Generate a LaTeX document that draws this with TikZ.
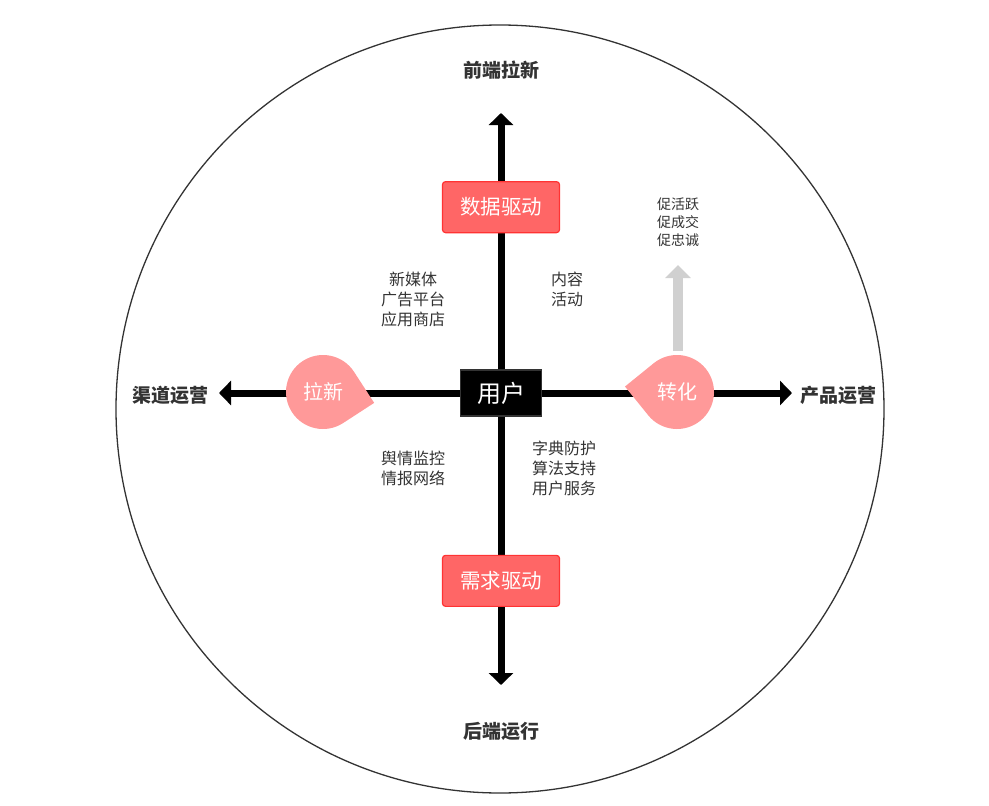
\documentclass[tikz,border=0pt]{standalone}
\usepackage{fontspec}
\setmainfont{Noto Sans CJK SC}
\usepackage{tikz}
\usetikzlibrary{positioning, calc, arrows.meta}
\definecolor{boxRed}{HTML}{FF6666}
\definecolor{boxRedLine}{HTML}{FF3333}
\definecolor{dropPink}{HTML}{FF9999}
\definecolor{textGray}{HTML}{333333}
\definecolor{arrowGray}{HTML}{D0D0D0}

\begin{document}
\begin{tikzpicture}[
    x=1pt, y=-1pt,
    ring/.style={circle, draw=textGray, line width=1.3pt, minimum size=768pt, inner sep=0pt},
    axisarr/.style={-{Triangle[width=24pt, length=12pt]}, line width=7pt, black},
    axislabel/.style={font=\fontsize{19}{22}\selectfont\bfseries, text=textGray},
    userbox/.style={rectangle, draw=textGray, fill=black, line width=1.5pt,
                    minimum width=81pt, minimum height=46pt, text=white,
                    font=\fontsize{24}{26}\selectfont},
    drivebox/.style={rectangle, draw=boxRedLine, fill=boxRed, line width=1.2pt,
                     rounded corners=3pt, minimum width=117pt, minimum height=51pt,
                     text=white, font=\fontsize{20.5}{23}\selectfont},
    droptext/.style={text=white, font=\fontsize{20}{22}\selectfont},
    dropfill/.style={fill=dropPink},
    note/.style={align=center, text=textGray, font=\fontsize{16}{20}\selectfont},
    smallnote/.style={align=center, text=textGray, font=\fontsize{14}{18}\selectfont},
    uparr/.style={-{Triangle[width=25pt, length=13pt]}, line width=10pt, arrowGray},
  ]
    \useasboundingbox (0,0) rectangle (989,806);

    % Outer circle
    \node[ring] (ring) at (500,409) {};

    % Axis labels
    \node[axislabel] (front) at (501,70) {前端拉新};
    \node[axislabel] (back) at (501,731) {后端运行};
    \node[axislabel] (channel) at (170,395) {渠道运营};
    \node[axislabel] (product) at (838,395) {产品运营};

    % Arrow tips
    \coordinate (tipN) at (501,113);
    \coordinate (tipS) at (501,685);
    \coordinate (tipW) at (219,393);
    \coordinate (tipE) at (792,393);

    % Center: user
    \node[userbox] (user) at (501,393) {用户};
    \foreach \a/\t in {north/tipN, south/tipS, west/tipW, east/tipE} {
      \draw[axisarr] (user.\a) -- (\t);
    }

    % Drivers on the vertical axis
    \node[drivebox, above=136pt of user] (data) {数据驱动};
    \node[drivebox, below=138pt of user] (demand) {需求驱动};

    % Growth arrow
    \coordinate (upfrom) at (678,351);
    \coordinate (uptip) at (678,265);
    \draw[uparr] (upfrom) -- (uptip);

    % Drops on the horizontal axis
    \coordinate (pullc) at (323,392);
    \coordinate (convc) at (677,392);
    \fill[dropfill] ($(pullc)+(57:37)$) arc[start angle=57, end angle=327, radius=37]
      -- ($(pullc)+(12:52.3)$) -- cycle;
    \fill[dropfill] ($(convc)+(231:37)$) arc[start angle=231, end angle=501, radius=37]
      -- ($(convc)+(186:52.3)$) -- cycle;
    \node[droptext] (pull) at (pullc) {拉新};
    \node[droptext] (conv) at (convc) {转化};

    % Quadrant notes
    \node[note] (media) at (413,299) {新媒体\\广告平台\\应用商店};
    \node[note] (content) at (567,289) {内容\\活动};
    \node[note] (monitor) at (413,468) {舆情监控\\情报网络};
    \node[note] (service) at (564,468) {字典防护\\算法支持\\用户服务};
    \node[smallnote] (promote) at (678,222) {促活跃\\促成交\\促忠诚};
  \end{tikzpicture}
\end{document}
